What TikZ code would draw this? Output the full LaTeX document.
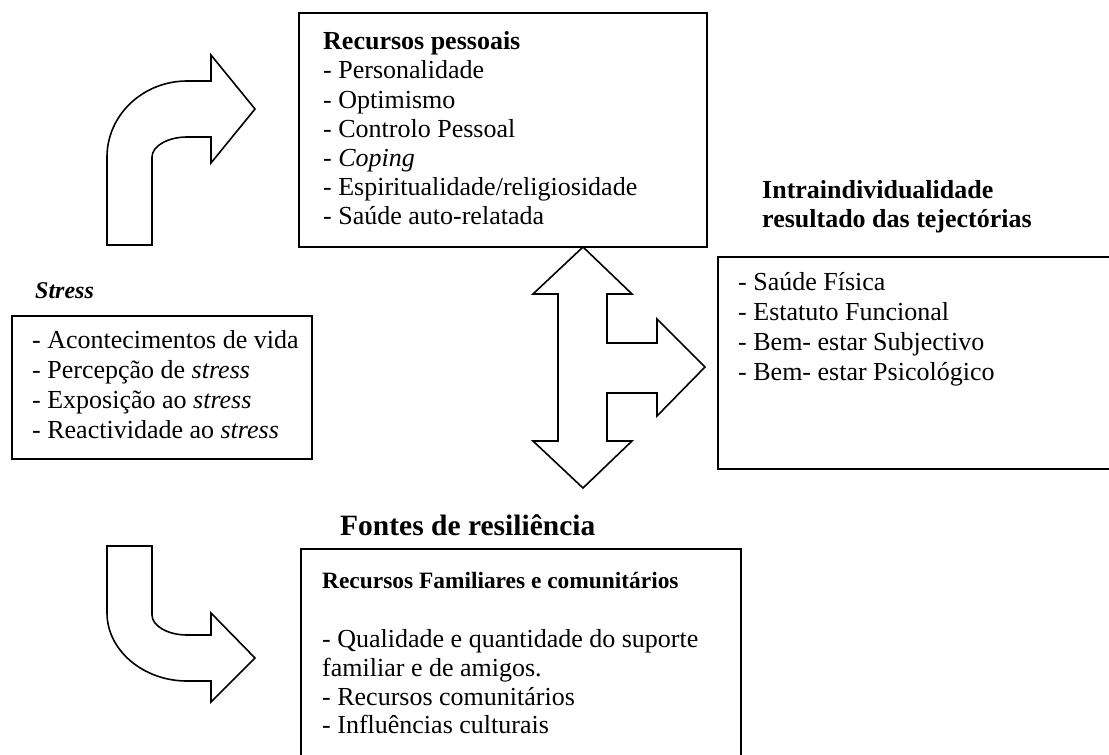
\documentclass[tikz,border=0pt]{standalone}
\usepackage{fontspec}
\setmainfont{Liberation Serif}
\begin{document}
\begin{tikzpicture}[x=1pt,y=-1pt,
    box/.style={draw, line width=1.6pt, inner sep=0pt, anchor=north west},
    txt/.style={inner sep=0pt, anchor=north west, align=left, font=\fontsize{26}{29.2}\selectfont},
    seta/.style={draw, line width=1.6pt, line join=miter}]
    \useasboundingbox (0,0) rectangle (1109,755);
    \clip (0,0) rectangle (1109,755);
    \node[box, minimum width=408, minimum height=234] (pessoais) at (298,12) {};
    \node[box, minimum width=300, minimum height=143] (stress) at (11,315) {};
    \node[box, minimum width=420, minimum height=212] (saude) at (717,256) {};
    \node[box, minimum width=440, minimum height=230] (familia) at (300,548) {};
    \node[txt] (pessoaisTxt) at (323,31.5) {\textbf{Recursos pessoais}\\- Personalidade\\- Optimismo\\- Controlo Pessoal\\- \textit{Coping}\\- Espiritualidade/religiosidade\\- Saúde auto-relatada};
    \node[txt, font=\fontsize{26}{30}\selectfont] (stressTxt) at (32,330) {- Acontecimentos de vida\\- Percepção de \textit{stress}\\- Exposição ao \textit{stress}\\- Reactividade ao \textit{stress}};
    \node[txt, font=\fontsize{26}{30}\selectfont] (saudeTxt) at (738,272.5) {- Saúde Física\\- Estatuto Funcional\\- Bem- estar Subjectivo\\- Bem- estar Psicológico};
    \node[txt, font=\bfseries\fontsize{23.4}{26}\selectfont] (familiaTit) at (322,572) {Recursos Familiares e comunitários};
    \node[txt, font=\fontsize{26}{28.7}\selectfont] (familiaTxt) at (322,629.5) {- Qualidade e quantidade do suporte\\familiar e de amigos.\\- Recursos comunitários\\- Influências culturais};
    \node[txt, font=\bfseries\fontsize{26}{29}\selectfont] (resultado) at (762,180) {Intraindividualidade\\resultado das tejectórias};
    \node[txt, font=\bfseries\itshape\fontsize{24}{28}\selectfont] (stressTit) at (35,282) {Stress};
    \node[txt, font=\bfseries\fontsize{29.5}{34}\selectfont] (fontes) at (340,514) {Fontes de resiliência};
    \draw[seta] (107,245) -- (107,157) .. controls (107,115) and (143,81) .. (187,81) -- (211,81) -- (211,55) -- (255,109) -- (211,163) -- (211,137) -- (187,137) .. controls (168,137) and (152,146) .. (152,157) -- (152,245) -- cycle;
    \draw[seta] (107,546) -- (107,613) .. controls (107,650) and (143,681) .. (187,681) -- (211,681) -- (211,702) -- (255,658) -- (211,613) -- (211,635) -- (187,635) .. controls (168,635) and (152,626) .. (152,615) -- (152,546) -- cycle;
    \draw[seta] (583,247) -- (632,294) -- (607,294) -- (607,343) -- (657,343) -- (657,319) -- (705,367) -- (657,416) -- (657,393) -- (607,393) -- (607,441) -- (632,441) -- (583,488) -- (533,441) -- (558,441) -- (558,294) -- (533,294) -- cycle;
\end{tikzpicture}
\end{document}
